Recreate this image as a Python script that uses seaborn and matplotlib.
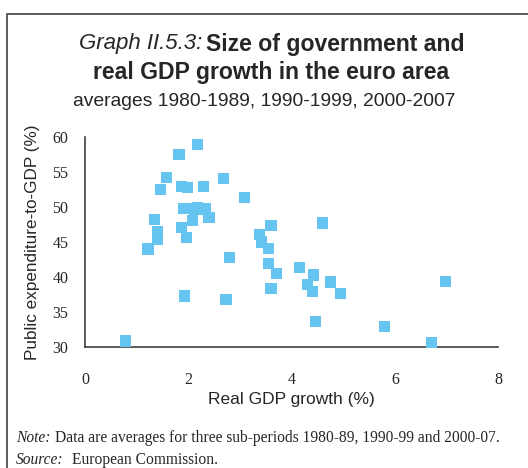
import matplotlib
matplotlib.use("Agg")
import matplotlib.pyplot as plt
from matplotlib.lines import Line2D
import seaborn as sns
import pandas as pd

# ---------------- DATA ----------------
gdp_growth = [2.17, 1.82, 1.57, 1.46, 1.86, 1.98, 2.29, 2.68, 3.08,
              1.90, 2.13, 2.17, 2.33, 2.08, 2.40, 1.34, 1.40, 1.40,
              1.86, 1.96, 1.22, 2.79, 1.92, 2.73, 0.78,
              3.60, 4.59, 3.37, 3.41, 3.55, 3.56, 3.70, 3.60, 4.16,
              4.42, 4.30, 4.40, 4.76, 4.94, 6.97, 4.47, 5.79, 6.70]
public_exp = [58.9, 57.5, 54.2, 52.5, 52.9, 52.8, 52.9, 54.1, 51.4,
              49.8, 49.7, 49.9, 49.7, 48.1, 48.5, 48.2, 46.5, 45.3,
              47.1, 45.7, 44.0, 42.8, 37.3, 36.8, 30.9,
              47.4, 47.7, 46.1, 45.0, 44.1, 42.0, 40.5, 38.4, 41.4,
              40.3, 39.0, 38.0, 39.3, 37.7, 39.4, 33.7, 33.0, 30.7]

x_ticks = [0, 2, 4, 6, 8]
y_ticks = [30, 35, 40, 45, 50, 55, 60]

df = pd.DataFrame({"growth": gdp_growth, "expenditure": public_exp})

# ---------------- STYLE ----------------
sns.set_style("white")
SANS = ["Liberation Sans", "DejaVu Sans"]
SERIF = ["Liberation Serif", "DejaVu Serif"]
plt.rcParams["font.family"] = SANS
AXCOL = "#404040"

fig = plt.figure(figsize=(5.28, 4.68), dpi=100)
ax = fig.add_axes([85 / 528, 1 - 347.3 / 468, (498.3 - 85) / 528, (347.3 - 136.7) / 468])

sns.scatterplot(data=df, x="growth", y="expenditure", ax=ax, marker="s",
                s=64, color="#66C5F0", edgecolor="none", linewidth=0,
                clip_on=False, zorder=3)

ax.set_xlim(0, 8)
ax.set_ylim(30, 60)
ax.set_xticks(x_ticks)
ax.set_yticks(y_ticks)
ax.set_xticklabels([str(t) for t in x_ticks], family=SERIF, fontsize=11.5)
ax.set_yticklabels([str(t) for t in y_ticks], family=SERIF, fontsize=11.5)
ax.tick_params(axis="x", direction="out", length=5, width=1, color=AXCOL, pad=13)
ax.tick_params(axis="y", direction="out", length=5, width=1, color=AXCOL, pad=7)

sns.despine(ax=ax)
for side in ["left", "bottom"]:
    ax.spines[side].set_color(AXCOL)
    ax.spines[side].set_linewidth(1.2)

ax.set_xlabel("Real GDP growth (%)", fontsize=12.5, labelpad=3)
ax.set_ylabel("Public expenditure-to-GDP (%)", fontsize=12.3, labelpad=9)

# ---------------- TITLES ----------------
fig.text(202 / 528, 1 - 44 / 468, "Graph II.5.3:", ha="right", va="center",
         fontsize=16, style="italic")
fig.text(206 / 528, 1 - 44 / 468, "Size of government and", ha="left", va="center",
         fontsize=16.6, weight="bold")
fig.text(271 / 528, 1 - 73 / 468, "real GDP growth in the euro area", ha="center",
         va="center", fontsize=16.6, weight="bold")
fig.text(264 / 528, 1 - 101 / 468, "averages 1980-1989, 1990-1999, 2000-2007",
         ha="center", va="center", fontsize=13.9)

# ---------------- NOTES ----------------
fig.text(16 / 528, 1 - 438 / 468, "Note:", ha="left", va="center",
         fontsize=11.2, style="italic", family=SERIF)
fig.text(55 / 528, 1 - 438 / 468,
         "Data are averages for three sub-periods 1980-89, 1990-99 and 2000-07.",
         ha="left", va="center", fontsize=11.2, family=SERIF)
fig.text(16 / 528, 1 - 460 / 468, "Source:", ha="left", va="center",
         fontsize=11.2, style="italic", family=SERIF)
fig.text(72 / 528, 1 - 460 / 468, "European Commission.", ha="left", va="center",
         fontsize=11.2, family=SERIF)

# frame around the chart box
fig.add_artist(Line2D([7 / 528, 7 / 528, 1.0], [0.0, 1 - 14 / 468, 1 - 14 / 468],
                      color=AXCOL, linewidth=1.2))

fig.savefig("out.png", dpi=100)
